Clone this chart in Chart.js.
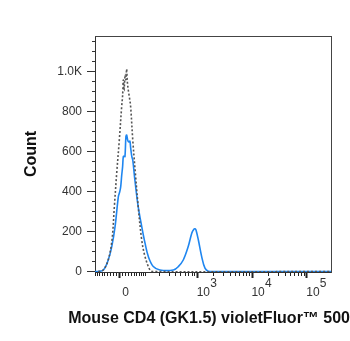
<!DOCTYPE html>
<html>
<head>
<meta charset="utf-8">
<script src="https://cdn.jsdelivr.net/npm/chart.js@4/dist/chart.umd.min.js"></script>
<style>
html,body{margin:0;padding:0;background:#fff;}
#wrap{width:350px;height:341px;position:relative;}
</style>
</head>
<body>
<div id="wrap"><canvas id="c" width="350" height="341"></canvas></div>
<script>
// Display channel (0-1000) positions and event counts
const isoX =   [14, 35, 56, 72, 82, 92, 103, 113, 117, 120, 123, 125, 128, 131, 134, 137, 141, 146, 151, 160, 171, 183, 198, 212, 233, 247, 1000];
const isoY =   [0,   8, 58,158,325,493, 658, 825, 880, 958, 905, 940, 985, 960,1012, 950, 908, 870, 825, 658, 493, 325, 158,  75,   8,   0,    0];

const cd4X =   [0, 7, 35, 56, 71, 85, 99, 105, 109, 113, 117, 120, 124, 127, 131, 134, 138, 141, 144, 148, 151, 156, 160, 169, 183, 198, 212, 226, 247, 275, 332, 353, 374, 395, 410, 419, 424, 428, 438, 452, 466, 480, 508, 1000];
const cd4Y =   [0, 0,  8, 58,125,225,375, 400, 425, 480, 525, 575, 578, 575, 675, 683, 660, 650, 648, 652, 620, 575, 558, 458, 325, 225, 142,  75,  25,   8,   8,  25,  58, 125, 192, 212, 214, 208, 158,  75,  17,   2,   0,   0];

// Axis ticks (exponent line, base line)
const xTickValues = [0, 1000, 10000, 100000];
const xTickLabels = [['', '0'], ['\u2003\u2002\u20093', '10'], ['\u2003\u2002\u20094', '10'], ['\u2003\u2002\u20095', '10']];
const yTickStep = 50;
const yLabelEvery = 200;
const yMin = -2, yMax = 1178;
const xTitle = 'Mouse CD4 (GK1.5) violetFluor\u2122 500';
const yTitle = 'Count';

// logicle-like display transform (channel units)
function T(v){ return 104 + 100.8 * Math.asinh(v / 76); }

function pts(xs, ys){ return xs.map((x,i)=>({x:x, y:ys[i]})); }

const xMinor = [];
[10,100,1000,10000].forEach(d=>{ for(let k=1;k<=9;k++){ xMinor.push(k*d); if(d<1000) xMinor.push(-k*d);} });
xMinor.push(100000);

new Chart(document.getElementById('c'), {
  type: 'scatter',
  data: {
    datasets: [
      { data: pts(isoX, isoY), showLine: true, borderColor: '#555555', borderWidth: 1.6,
        borderDash: [2,2], pointRadius: 0, tension: 0.35, fill: false },
      { data: pts(cd4X, cd4Y), showLine: true, borderColor: '#1f86f0', borderWidth: 1.6,
        pointRadius: 0, tension: 0.35, fill: false }
    ]
  },
  options: {
    responsive: false,
    animation: false,
    events: [],
    layout: { padding: { top: 36, right: 0, left: 0, bottom: 0 } },
    plugins: {
      legend: { display: false }, tooltip: { enabled: false },
      title: { display: true, position: 'bottom', align: 'end', text: xTitle, color: '#111',
        font: { family: 'Liberation Sans, Arial', size: 16, weight: 'bold', lineHeight: 1.2 },
        padding: { top: 0, bottom: 13 } }
    },
    scales: {
      x: {
        type: 'linear', position: 'bottom', min: 0, max: 1000,
        afterFit: s => { s.height = 36.8; },
        afterBuildTicks: s => {
          const all = [];
          xMinor.forEach(v => { const p = T(v); if (p >= 0 && p <= 1000) all.push({value: p, major: xTickValues.includes(v), raw: v}); });
          xTickValues.forEach(v => { if (!xMinor.includes(v)) all.push({value: T(v), major: true, raw: v}); });
          all.sort((a,b)=>a.value-b.value);
          s.ticks = all;
        },
        ticks: {
          autoSkip: false, maxRotation: 0, padding: 1.5, labelOffset: 6,
          color: '#333', font: { family: 'Liberation Sans, Arial', size: 12, lineHeight: 0.75 },
          callback: function(val, i, ticks){ const t = ticks[i]; const k = xTickValues.indexOf(t.raw); return k >= 0 ? xTickLabels[k] : ''; }
        },
        grid: { drawOnChartArea: false, drawTicks: true, tickLength: 6, tickColor: '#222',
          tickWidth: ctx => (ctx.tick && ctx.tick.major) ? 2 : 1,
          tickBorderDash: ctx => (ctx.tick && ctx.tick.major) ? [] : [3, 100] },
        border: { display: true, color: '#333', width: 1 },
        title: { display: false }
      },
      y: {
        type: 'linear', position: 'left', min: yMin, max: yMax,
        afterFit: s => { s.width = 95; },
        afterBuildTicks: s => {
          const t = [];
          for (let v = 0; v <= yMax; v += yTickStep) t.push({value: v, major: v % yLabelEvery === 0});
          s.ticks = t;
        },
        ticks: {
          autoSkip: false, padding: 5, color: '#333', font: { family: 'Liberation Sans, Arial', size: 12 },
          callback: v => v % yLabelEvery === 0 ? (v >= 1000 ? (v/1000).toFixed(1) + 'K' : String(v)) : ''
        },
        grid: { drawOnChartArea: false, drawTicks: true, tickLength: 8, tickColor: '#333',
          tickWidth: 1,
          tickBorderDash: ctx => (ctx.tick && ctx.tick.major) ? [] : [0, 5, 3, 100] },
        border: { display: true, color: '#333', width: 1 },
        title: { display: true, text: yTitle, color: '#111',
          font: { family: 'Liberation Sans, Arial', size: 16, weight: 'bold' }, padding: { top: 22, bottom: 0 } }
      },
      x2: {
        type: 'linear', position: 'top', min: 0, max: 1000, display: true,
        afterFit: s => { s.height = 0; },
        ticks: { display: false }, grid: { display: false, drawTicks: false },
        border: { display: true, color: '#444', width: 1 }
      },
      y2: {
        type: 'linear', position: 'right', min: yMin, max: yMax, display: true,
        afterFit: s => { s.width = 19; },
        ticks: { display: false }, grid: { display: false, drawTicks: false },
        border: { display: true, color: '#444', width: 1 }
      }
    }
  }
});
</script>
</body>
</html>
